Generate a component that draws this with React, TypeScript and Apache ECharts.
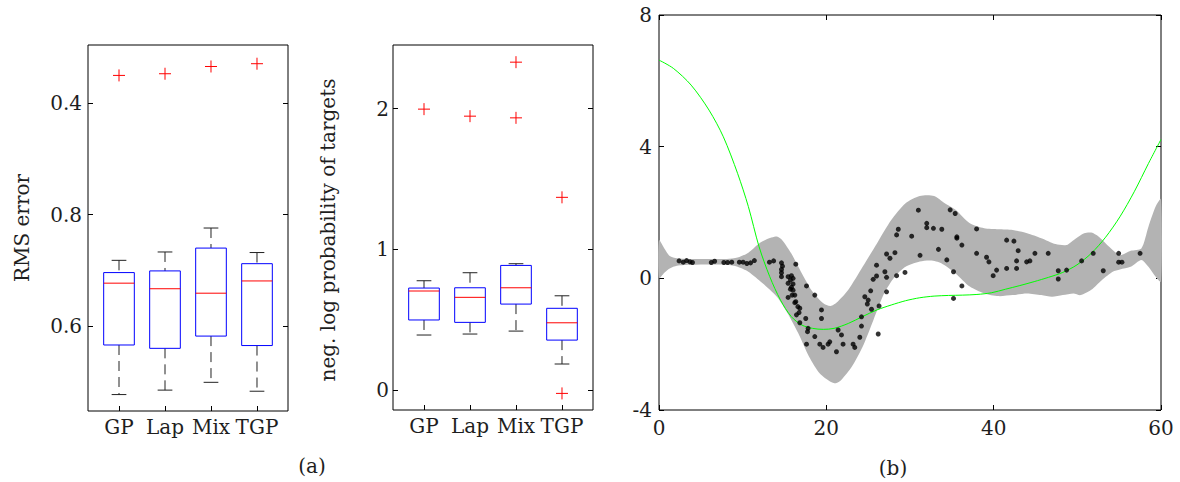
import React, { useEffect, useRef } from "react";
import * as echarts from "echarts";

const categories = ["GP", "Lap", "Mix", "TGP"];
const categoryPositions = [1, 2, 3, 4];

// [lower whisker, q1, median, q3, upper whisker]
const rmsBoxes = [
  [0.477, 0.566, 0.677, 0.696, 0.718],
  [0.485, 0.56, 0.667, 0.699, 0.733],
  [0.499, 0.582, 0.659, 0.74, 0.776],
  [0.483, 0.565, 0.681, 0.712, 0.732],
];
const rmsOutliers = [
  [1, 1.05],
  [2, 1.053],
  [3, 1.066],
  [4, 1.071],
];
const rmsTickValues = [0.6, 0.8, 1.0];
const rmsTickLabels = ["0.6", "0.8", "0.4"];

const nlpBoxes = [
  [0.391, 0.498, 0.704, 0.725, 0.777],
  [0.398, 0.481, 0.659, 0.727, 0.834],
  [0.419, 0.611, 0.727, 0.886, 0.898],
  [0.185, 0.355, 0.478, 0.581, 0.67],
];
const nlpOutliers = [
  [1, 1.997],
  [2, 1.947],
  [3, 2.331],
  [3, 1.935],
  [4, 1.37],
  [4, -0.024],
];
const nlpTickValues = [0, 1, 2];

const bandUpper = [
  [0, 1.16], [0.64, 0.91], [1.28, 0.68], [2.14, 0.61], [3.84, 0.59], [8.11, 0.59],
  [9.39, 0.63], [10.68, 0.78], [11.96, 1.06], [12.81, 1.18], [14.09, 1.27], [14.73, 1.16],
  [15.8, 0.76], [17.08, 0.15], [18.36, -0.41], [19.64, -0.76], [20.5, -0.84], [21.35, -0.71],
  [22.63, -0.35], [24.34, 0.35], [26.05, 1.06], [27.76, 1.77], [29.47, 2.28], [31.17, 2.5],
  [32.88, 2.5], [34.16, 2.28], [35.44, 2.08], [37.15, 1.67], [38.86, 1.52], [40.57, 1.49],
  [42.28, 1.47], [43.99, 1.37], [45.69, 1.22], [47.4, 1.04], [48.68, 1.01], [49.54, 1.16],
  [50.82, 1.37], [51.67, 1.39], [52.53, 1.27], [53.81, 0.96], [55.09, 0.71], [56.37, 0.84],
  [57.65, 0.91], [58.5, 1.57], [59.36, 2.18], [60, 2.41],
];
const bandLower = [
  [0, 0.0], [0.64, 0.17], [1.28, 0.3], [2.14, 0.38], [3.84, 0.41], [8.11, 0.41],
  [9.39, 0.35], [10.68, 0.2], [12.38, -0.15], [14.09, -0.56], [15.37, -1.06], [16.65, -1.67],
  [17.94, -2.38], [19.22, -2.89], [20.5, -3.14], [21.14, -3.19], [21.78, -3.09], [23.06, -2.68],
  [24.34, -2.08], [25.62, -1.27], [26.9, -0.46], [28.18, 0.05], [29.47, 0.35], [31.17, 0.51],
  [32.46, 0.54], [33.74, 0.46], [35.44, 0.15], [37.15, -0.25], [38.86, -0.46], [40.57, -0.54],
  [42.28, -0.51], [43.99, -0.46], [45.69, -0.51], [46.97, -0.56], [48.26, -0.51], [49.54, -0.46],
  [50.39, -0.51], [51.67, -0.35], [52.95, -0.05], [54.23, 0.2], [55.09, 0.27], [56.37, 0.35],
  [57.65, 0.56], [58.5, 0.35], [59.36, 0.05], [60, -0.1],
];

const greenCurve = [
  [0, 6.63], [1.71, 6.38], [3.84, 5.87], [5.98, 5.11], [7.69, 4.3], [9.39, 3.19], [10.68, 2.18],
  [11.96, 0.96], [13.24, 0.05], [14.52, -0.66], [15.8, -1.16], [17.08, -1.42], [18.36, -1.52],
  [19.64, -1.55], [20.92, -1.52], [22.63, -1.37], [24.34, -1.16], [26.05, -0.96], [27.76, -0.81],
  [29.47, -0.68], [31.17, -0.59], [32.88, -0.54], [34.59, -0.52], [36.3, -0.51], [38.0, -0.49],
  [39.71, -0.44], [41.42, -0.33], [43.13, -0.22], [44.84, -0.1], [46.55, 0.03], [48.26, 0.18],
  [49.96, 0.41], [51.67, 0.76], [53.38, 1.25], [55.09, 1.87], [56.8, 2.63], [58.5, 3.49], [60, 4.22],
];

const dataPoints = [
  [2.4, 0.53], [2.9, 0.49], [3.3, 0.54], [3.7, 0.5], [4.0, 0.48], [6.25, 0.48], [6.65, 0.52],
  [7.75, 0.48], [8.2, 0.48], [8.7, 0.49], [9.6, 0.49], [10.05, 0.49], [10.5, 0.45], [10.95, 0.47],
  [11.4, 0.54], [13.2, 0.49], [13.7, 0.53],
  [14.64, 0.47], [14.76, 0.37], [14.64, 0.27], [14.64, 0.17], [14.64, 0.05], [15.43, 0.05],
  [15.83, 0.08], [16.02, 0.0], [15.71, -0.05], [16.35, 0.43], [15.43, -0.15], [16.02, -0.17],
  [15.83, -0.27], [16.02, -0.36], [15.71, -0.33], [15.43, -0.58], [15.91, -0.51], [16.23, -0.51],
  [16.35, -0.71], [16.23, -0.74], [16.83, -0.91], [16.74, -1.04], [16.43, -1.11], [16.6, -0.86],
  [17.63, -0.23], [18.62, -0.51], [16.83, -1.35], [17.54, -1.22], [17.82, -1.52], [17.75, -1.62],
  [19.42, -0.96], [19.42, -1.22], [18.62, -1.77], [17.63, -2.0], [19.22, -2.0], [19.61, -2.1],
  [20.21, -2.0], [20.41, -1.93], [21.21, -2.23], [21.41, -1.57], [21.81, -1.72], [22.0, -2.0],
  [23.2, -2.0], [23.4, -2.1], [24.0, -1.79], [24.2, -1.17], [24.2, -1.45], [24.6, -0.56],
  [25.0, -0.66], [24.9, -0.78], [25.4, -0.94], [25.6, -0.03], [26.0, 0.07], [25.3, -0.38],
  [26.0, 0.4], [26.3, -0.84], [26.2, -1.69], [27.0, 0.2], [27.2, 0.03], [27.2, -0.41],
  [27.2, 0.74], [27.6, 0.61], [28.2, 0.78], [28.4, 0.08], [28.4, 1.32], [28.6, 1.49],
  [29.4, 0.18], [30.2, 1.28], [31.0, 2.07], [31.2, 0.7],
  [32.0, 1.67], [32.0, 1.54], [32.8, 1.52], [33.8, 1.49], [33.4, 0.88], [34.4, 0.56],
  [34.8, 2.08], [35.4, 1.97], [35.6, 1.26], [35.6, 1.22], [36.2, 1.01], [35.2, 0.2],
  [35.2, -0.61], [36.2, -0.23],
  [37.96, 1.5], [37.96, 0.76], [39.15, 0.64], [39.43, 0.5], [40.35, 0.25], [39.94, 0.08],
  [41.55, 1.16], [42.42, 1.13], [41.55, 0.3], [42.74, 0.3], [42.93, 0.84], [42.74, 0.53],
  [43.94, 0.5], [44.33, 0.53], [44.93, 0.76], [46.52, 0.76], [47.72, 0.23], [47.72, -0.02],
  [48.72, 0.25], [50.51, 0.53], [51.9, 0.76], [53.1, 0.23], [54.94, 0.76], [54.94, 0.49],
  [55.33, 0.49], [57.5, 0.76],
];
const rightXTicks = [0, 20, 40, 60];
const rightYTicks = [-4, 0, 4, 8];

const FONT = "DejaVu Serif";
const TXT = "#1e1e1e";

function boxRender(params: any, api: any) {
  const x = api.value(0);
  const lo = api.value(1);
  const q1 = api.value(2);
  const med = api.value(3);
  const q3 = api.value(4);
  const hi = api.value(5);
  const hw = 0.333;
  const cw = 0.16;
  const c = (xx: number, yy: number) => api.coord([xx, yy]);
  const [xc, yHi] = c(x, hi);
  const [, yLo] = c(x, lo);
  const [xl, yQ3] = c(x - hw, q3);
  const [xr, yQ1] = c(x + hw, q1);
  const [, yMed] = c(x, med);
  const [cl] = c(x - cw, hi);
  const [cr] = c(x + cw, hi);
  const wStyle = { stroke: "#222", lineWidth: 1, lineDash: [10, 6] };
  const cStyle = { stroke: "#222", lineWidth: 1 };
  return {
    type: "group",
    children: [
      { type: "line", shape: { x1: xc, y1: yHi, x2: xc, y2: yQ3 }, style: wStyle },
      { type: "line", shape: { x1: xc, y1: yQ1, x2: xc, y2: yLo }, style: wStyle },
      { type: "line", shape: { x1: cl, y1: yHi, x2: cr, y2: yHi }, style: cStyle },
      { type: "line", shape: { x1: cl, y1: yLo, x2: cr, y2: yLo }, style: cStyle },
      {
        type: "rect",
        shape: { x: xl, y: yQ3, width: xr - xl, height: yQ1 - yQ3 },
        style: { fill: "#fff", stroke: "#0000ff", lineWidth: 1 },
      },
      { type: "line", shape: { x1: xl, y1: yMed, x2: xr, y2: yMed }, style: { stroke: "#ff0000", lineWidth: 1 } },
    ],
  };
}

function plusRender(params: any, api: any) {
  const [px, py] = api.coord([api.value(0), api.value(1)]);
  const s = 6;
  const st = { stroke: "#ff0000", lineWidth: 1 };
  return {
    type: "group",
    children: [
      { type: "line", shape: { x1: px - s, y1: py, x2: px + s, y2: py }, style: st },
      { type: "line", shape: { x1: px, y1: py - s, x2: px, y2: py + s }, style: st },
    ],
  };
}

function bandRender(params: any, api: any) {
  if (params.dataIndex !== 0) return null;
  const pts: number[][] = [];
  bandUpper.forEach((p) => pts.push(api.coord(p)));
  for (let i = bandLower.length - 1; i >= 0; i--) pts.push(api.coord(bandLower[i]));
  return {
    type: "polygon",
    shape: { points: pts, smooth: 0.25 },
    style: { fill: "#b3b3b3", stroke: "none" },
  };
}

export default function App() {
  const ref = useRef<HTMLDivElement>(null);
  useEffect(() => {
    if (!ref.current) return;
    const chart = echarts.init(ref.current, undefined, { renderer: "svg" });
    const labelBase = { fontFamily: FONT, fontSize: 20, color: TXT };
    const tickStyle = { color: "#000", width: 1 };
    const noLine = { show: false, onZero: false };
    const catXAxis = (gi: number) => ({
      gridIndex: gi,
      type: "value",
      min: 0.326,
      max: 4.674,
      axisLine: noLine,
      splitLine: { show: false },
      axisTick: { show: true, inside: true, length: 5, customValues: categoryPositions, lineStyle: tickStyle },
      axisLabel: {
        ...labelBase,
        margin: 6,
        customValues: categoryPositions,
        formatter: (v: number) => categories[Math.round(v) - 1] ?? "",
      },
    });
    const option: any = {
      animation: false,
      backgroundColor: "#fff",
      grid: [
        { left: 88, top: 45, width: 200, height: 366, show: true, borderColor: "#000", borderWidth: 1, backgroundColor: "transparent" },
        { left: 393, top: 45, width: 200, height: 365, show: true, borderColor: "#000", borderWidth: 1, backgroundColor: "transparent" },
        { left: 659, top: 15, width: 502, height: 395, show: true, borderColor: "#000", borderWidth: 1, backgroundColor: "transparent" },
      ],
      xAxis: [
        catXAxis(0),
        catXAxis(1),
        {
          gridIndex: 2,
          type: "value",
          min: 0,
          max: 60,
          interval: 20,
          axisLine: noLine,
          splitLine: { show: false },
          axisTick: { inside: true, length: 5, lineStyle: tickStyle },
          axisLabel: { ...labelBase, margin: 8, customValues: rightXTicks },
        },
        {
          gridIndex: 2,
          type: "value",
          position: "top",
          min: 0,
          max: 60,
          interval: 20,
          axisLine: noLine,
          splitLine: { show: false },
          axisTick: { inside: true, length: 5, lineStyle: tickStyle },
          axisLabel: { show: false },
        },
      ],
      yAxis: [
        {
          gridIndex: 0,
          type: "value",
          min: 0.4475,
          max: 1.1046,
          axisLine: noLine,
          splitLine: { show: false },
          axisTick: { inside: true, length: 5, customValues: rmsTickValues, lineStyle: tickStyle },
          axisLabel: {
            ...labelBase,
            margin: 6,
            customValues: rmsTickValues,
            formatter: (v: number) => {
              const i = rmsTickValues.findIndex((t) => Math.abs(t - v) < 1e-6);
              return i >= 0 ? rmsTickLabels[i] : "";
            },
          },
        },
        {
          gridIndex: 0,
          type: "value",
          position: "right",
          min: 0.4475,
          max: 1.1046,
          axisLine: noLine,
          splitLine: { show: false },
          axisTick: { inside: true, length: 5, customValues: rmsTickValues, lineStyle: tickStyle },
          axisLabel: { show: false },
        },
        {
          gridIndex: 1,
          type: "value",
          min: -0.142,
          max: 2.453,
          axisLine: noLine,
          splitLine: { show: false },
          axisTick: { inside: true, length: 5, customValues: nlpTickValues, lineStyle: tickStyle },
          axisLabel: { ...labelBase, margin: 4, customValues: nlpTickValues },
        },
        {
          gridIndex: 1,
          type: "value",
          position: "right",
          min: -0.142,
          max: 2.453,
          axisLine: noLine,
          splitLine: { show: false },
          axisTick: { inside: true, length: 5, customValues: nlpTickValues, lineStyle: tickStyle },
          axisLabel: { show: false },
        },
        {
          gridIndex: 2,
          type: "value",
          min: -4,
          max: 8,
          interval: 4,
          axisLine: noLine,
          splitLine: { show: false },
          axisTick: { inside: true, length: 5, lineStyle: tickStyle },
          axisLabel: { ...labelBase, margin: 7, customValues: rightYTicks },
        },
        {
          gridIndex: 2,
          type: "value",
          position: "right",
          min: -4,
          max: 8,
          interval: 4,
          axisLine: noLine,
          splitLine: { show: false },
          axisTick: { inside: true, length: 5, lineStyle: tickStyle },
          axisLabel: { show: false },
        },
      ],
      series: [
        {
          type: "custom",
          xAxisIndex: 0,
          yAxisIndex: 0,
          renderItem: boxRender,
          encode: { x: 0, y: [1, 2, 3, 4, 5] },
          data: rmsBoxes.map((b, i) => [categoryPositions[i], ...b]),
        },
        {
          type: "custom",
          xAxisIndex: 0,
          yAxisIndex: 0,
          renderItem: plusRender,
          encode: { x: 0, y: 1 },
          data: rmsOutliers,
        },
        {
          type: "custom",
          xAxisIndex: 1,
          yAxisIndex: 2,
          renderItem: boxRender,
          encode: { x: 0, y: [1, 2, 3, 4, 5] },
          data: nlpBoxes.map((b, i) => [categoryPositions[i], ...b]),
        },
        {
          type: "custom",
          xAxisIndex: 1,
          yAxisIndex: 2,
          renderItem: plusRender,
          encode: { x: 0, y: 1 },
          data: nlpOutliers,
        },
        {
          type: "custom",
          xAxisIndex: 2,
          yAxisIndex: 4,
          renderItem: bandRender,
          encode: { x: 0, y: 1 },
          data: [bandUpper[0]],
          z: 1,
        },
        {
          type: "line",
          xAxisIndex: 2,
          yAxisIndex: 4,
          data: greenCurve,
          smooth: 0.3,
          showSymbol: false,
          lineStyle: { color: "#00ff00", width: 1 },
          z: 2,
        },
        {
          type: "scatter",
          xAxisIndex: 2,
          yAxisIndex: 4,
          data: dataPoints,
          symbol: "circle",
          symbolSize: 5,
          itemStyle: { color: "#000" },
          z: 3,
        },
      ],
      graphic: [
        {
          type: "text",
          x: 22,
          y: 228,
          rotation: Math.PI / 2,
          style: { text: "RMS error", fontFamily: FONT, fontSize: 20, fill: TXT, align: "center", verticalAlign: "middle" },
        },
        {
          type: "text",
          x: 328,
          y: 230,
          rotation: Math.PI / 2,
          style: {
            text: "neg. log probability of targets",
            fontFamily: FONT,
            fontSize: 20,
            fill: TXT,
            align: "center",
            verticalAlign: "middle",
          },
        },
        {
          type: "text",
          x: 312,
          y: 466,
          style: { text: "(a)", fontFamily: FONT, fontSize: 20, fill: TXT, align: "center", verticalAlign: "middle" },
        },
        {
          type: "text",
          x: 893,
          y: 468,
          style: { text: "(b)", fontFamily: FONT, fontSize: 20, fill: TXT, align: "center", verticalAlign: "middle" },
        },
      ],
    };
    chart.setOption(option);
    return () => chart.dispose();
  }, []);
  return <div ref={ref} style={{ position: "absolute", left: 0, top: 0, width: 1180, height: 482 }} />;
}
